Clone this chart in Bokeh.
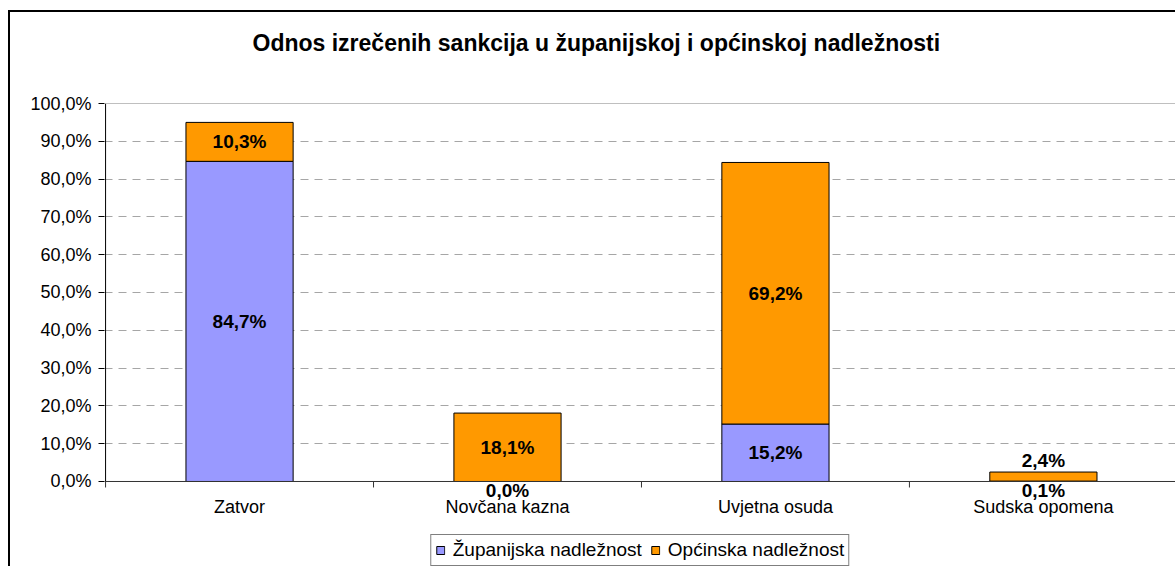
from bokeh.plotting import figure
from bokeh.models import (ColumnDataSource, Range1d, FixedTicker, LabelSet,
                          Span, Legend, LegendItem, Title)
from bokeh.core.properties import value
from bokeh.embed import file_html
from bokeh.resources import INLINE

# ---- data ----
categories = ["Zatvor", "Novčana kazna", "Uvjetna osuda", "Sudska opomena"]
zupanijska = [84.7, 0.0, 15.2, 0.1]
opcinska = [10.3, 18.1, 69.2, 2.4]
series_names = ["Županijska nadležnost", "Općinska nadležnost"]
y_ticks = [0, 10, 20, 30, 40, 50, 60, 70, 80, 90, 100]
y_tick_labels = ["0,0%", "10,0%", "20,0%", "30,0%", "40,0%", "50,0%",
                 "60,0%", "70,0%", "80,0%", "90,0%", "100,0%"]
title_text = "Odnos izrečenih sankcija u županijskoj i općinskoj nadležnosti"

FONT = "Liberation Sans"
BLUE = "#9999FF"
ORANGE = "#FF9900"

def fmt(v):
    return ("%.1f" % v).replace(".", ",") + "%"

# frame reaches down to the legend; the value axis itself runs 0..100
FRAME_H = 463
Y_MIN = -22.49
px_per_y = FRAME_H / (100 - Y_MIN)
tick_len = 6 / px_per_y

xc = [i + 0.5 for i in range(len(categories))]
bounds = list(range(len(categories) + 1))
src = ColumnDataSource(dict(x=xc, z=zupanijska, o=opcinska))

p = figure(frame_width=1071, frame_height=FRAME_H, output_backend="svg",
           toolbar_location=None, x_axis_location=None,
           x_range=Range1d(-0.004, 3.993), y_range=Range1d(Y_MIN, 100),
           min_border_left=104, min_border_right=0, min_border_top=103,
           min_border_bottom=0, background_fill_color="white",
           border_fill_color=None)
p.outline_line_color = None
# outer chart border (left and top edges), drawn by the page element itself
p.styles = {"box-shadow": "inset 8px 0 0 0 white, inset 0 10px 0 0 white, "
                          "inset 10px 0 0 0 black, inset 0 12px 0 0 black",
            "background-color": "white"}

# default title left empty; spacer + real title stacked above the frame
p.title.text = ""
p.title.standoff = 0
p.add_layout(Title(text=" ", text_font=FONT, text_font_size="10px", standoff=9,
                   text_color="white"), "above")
p.add_layout(Title(text=title_text, align="left", offset=148, standoff=52,
                   text_font=FONT, text_font_size="23px", text_font_style="bold",
                   text_color="black"), "above")

rs = p.vbar_stack(["z", "o"], x="x", width=0.4, source=src,
                  fill_color=[BLUE, ORANGE], line_color="black", line_width=1)

# ---- y axis (ticks + labels); its line is drawn from 0 to 100 below ----
yax = p.yaxis[0]
yax.ticker = FixedTicker(ticks=y_ticks, minor_ticks=[])
yax.major_label_overrides = {t: l for t, l in zip(y_ticks, y_tick_labels)}
yax.major_label_text_font = FONT
yax.major_label_text_font_size = "18px"
yax.major_label_text_color = "black"
yax.major_tick_out = 6
yax.major_tick_in = 0
yax.major_label_standoff = 7
yax.axis_line_color = None
yax.major_tick_line_color = "black"
p.segment(x0=[0], y0=[y_ticks[0]], x1=[0], y1=[y_ticks[-1]],
          line_color="black", line_width=1)

# ---- grid ----
p.xgrid.visible = False
p.ygrid.ticker = FixedTicker(ticks=y_ticks[1:-1])
p.ygrid.grid_line_color = "#a6a6a6"
p.ygrid.grid_line_dash = "8 6"
p.ygrid.grid_line_width = 1
p.add_layout(Span(location=y_ticks[-1], dimension="width",
                  line_color="#808080", line_width=1))

# ---- category axis at 0 ----
p.add_layout(Span(location=0, dimension="width", line_color="#333333", line_width=1))
p.segment(x0=bounds, y0=[0] * len(bounds), x1=bounds, y1=[-tick_len] * len(bounds),
          line_color="#333333", line_width=1)
csrc = ColumnDataSource(dict(x=xc, y=[0] * len(xc), t=categories))
p.add_layout(LabelSet(x="x", y="y", text="t", y_offset=-26, source=csrc,
                      text_align="center", text_baseline="middle",
                      text_font=value(FONT), text_font_size="18px",
                      text_color="black"))

# ---- data labels ----
lx, ly, lt, loff = [], [], [], []
for i in range(len(categories)):
    z, o = zupanijska[i], opcinska[i]
    lx.append(xc[i]); lt.append(fmt(z))
    if z < 3:
        ly.append(0); loff.append(-9)       # too small: just under the axis
    else:
        ly.append(z / 2); loff.append(0)
    lx.append(xc[i]); lt.append(fmt(o))
    if o < 3:
        ly.append(z + o); loff.append(12)   # too small: just above the bar
    else:
        ly.append(z + o / 2); loff.append(0)
lsrc = ColumnDataSource(dict(x=lx, y=ly, t=lt, off=loff))
p.add_layout(LabelSet(x="x", y="y", text="t", y_offset="off", source=lsrc,
                      text_align="center", text_baseline="middle",
                      text_font=value(FONT), text_font_size="19px",
                      text_font_style="bold", text_color="black"))

# ---- legend ----
legend = Legend(items=[LegendItem(label=n, renderers=[r]) for n, r in zip(series_names, rs)],
                location="bottom", orientation="horizontal",
                border_line_color="black", border_line_width=1,
                background_fill_color="white", background_fill_alpha=1,
                padding=4, spacing=8, margin=0,
                glyph_width=10, glyph_height=10, label_standoff=8,
                label_text_font=FONT, label_text_font_size="19px",
                label_text_color="black")
p.add_layout(legend)

open("out.html", "w").write(file_html(p, INLINE))
